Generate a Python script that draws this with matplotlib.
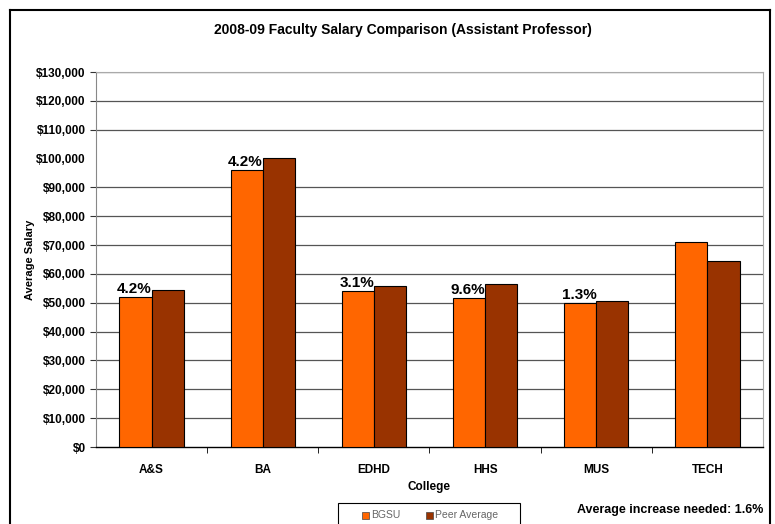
import matplotlib
matplotlib.use("Agg")
import matplotlib.pyplot as plt
from matplotlib.patches import Rectangle
from matplotlib.lines import Line2D
import numpy as np

plt.rcParams['font.family'] = ['Liberation Sans', 'DejaVu Sans']

colleges = ["A&S", "BA", "EDHD", "HHS", "MUS", "TECH"]
bgsu = [52000, 96000, 54100, 51700, 49900, 71000]
peer = [54400, 100200, 55800, 56500, 50600, 64500]
increase_labels = ["4.2%", "4.2%", "3.1%", "9.6%", "1.3%", ""]
series_names = ["BGSU", "Peer Average"]
colors = ["#FF6600", "#993300"]
title = "2008-09 Faculty Salary Comparison (Assistant Professor)"
note = "Average increase needed: 1.6%"

W, H = 775, 524
fig = plt.figure(figsize=(W/100, H/100), dpi=100)
ax = fig.add_axes([96/W, 1-447/H, (763-96)/W, (447-72)/H])

x = np.arange(len(colleges))
bw = 0.29
ax.bar(x - bw/2, bgsu, bw, color=colors[0], edgecolor="black", linewidth=0.8, zorder=3)
ax.bar(x + bw/2, peer, bw, color=colors[1], edgecolor="black", linewidth=0.8, zorder=3)

for i, lab in enumerate(increase_labels):
    if lab:
        ax.text(x[i] - bw/2 - 0.01, bgsu[i] + 200, lab, ha="center", va="bottom",
                fontsize=11, fontweight="bold", zorder=4)

yt = list(range(0, 130001, 10000))
for v in yt:
    if v > 0 and v != 100000:
        ax.axhline(v, color="#555555", linewidth=0.9, zorder=1)
ax.set_ylim(0, 130000)
ax.set_xlim(-0.5, len(colleges) - 0.5)
ax.set_yticks(yt)
ax.set_yticklabels([f"${v:,.0f}" for v in yt], fontsize=8.5, fontweight="bold")
for v, t in zip(yt, ax.yaxis.get_major_ticks()):
    if v == 100000:
        t.tick1line.set_visible(False)
ax.set_xticks(x)
ax.set_xticklabels(colleges, fontsize=8.5, fontweight="bold")
ax.tick_params(axis="x", length=0, pad=12)
ax.set_xticks(np.arange(0.5, len(colleges) - 0.5, 1), minor=True)
ax.tick_params(axis="x", which="minor", length=4, direction="out", color="black")
ax.tick_params(axis="y", length=4, direction="out", color="#333333")
ax.spines["top"].set_color("#aaaaaa")
ax.spines["right"].set_color("#aaaaaa")
ax.spines["left"].set_color("#888888")
ax.spines["bottom"].set_color("black")
ax.spines["bottom"].set_linewidth(1.0)
ax.set_xlabel("College", fontsize=8.5, fontweight="bold", labelpad=4)
ax.set_ylabel("Average Salary", fontsize=8, fontweight="bold", labelpad=1)

fig.text(403/W, 1-30/H, title, ha="center", va="center", fontsize=10, fontweight="bold")

# outer frame
for (xs, ys) in [([10/W, 10/W], [0, 1-10/H]), ([10/W, 770/W], [1-10/H, 1-10/H]),
                 ([770/W, 770/W], [1-10/H, 0])]:
    fig.add_artist(Line2D(xs, ys, color="black", linewidth=1.5))

# legend box
fig.add_artist(Rectangle((338/W, -0.01), (520-338)/W, 1-503/H + 0.01, transform=fig.transFigure,
                         facecolor="white", edgecolor="black", linewidth=0.8))
ly = 1-515/H
for px, name, c in [(362, series_names[0], colors[0]), (426, series_names[1], colors[1])]:
    fig.add_artist(Rectangle((px/W, ly - 3.5/H), 7/W, 7/H, transform=fig.transFigure,
                             facecolor=c, edgecolor="#444444", linewidth=0.5))
    fig.text((px + 9)/W, ly, name, ha="left", va="center", fontsize=7.5, color="#666666")

fig.text(670/W, 1-510/H, note, ha="center", va="center", fontsize=9, fontweight="bold")

fig.savefig("out.png", dpi=100)
